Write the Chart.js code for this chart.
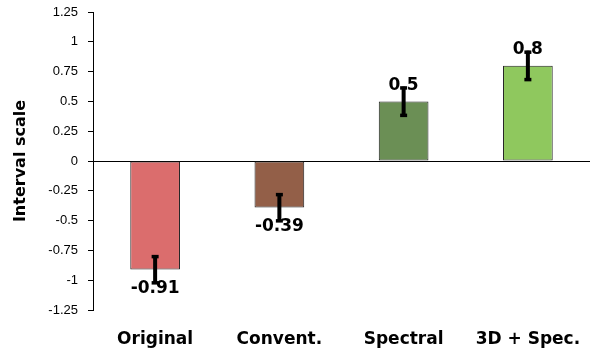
<!DOCTYPE html>
<html>
<head>
<meta charset="utf-8">
<script src="https://cdn.jsdelivr.net/npm/chart.js@4.4.1/dist/chart.umd.min.js"></script>
<style>
  html, body { margin: 0; padding: 0; background: #fff; }
  #wrap { width: 590px; height: 352px; }
</style>
</head>
<body>
<div id="wrap"><canvas id="chart"></canvas></div>
<script>
// Chart data
const categories = ['Original', 'Convent.', 'Spectral', '3D + Spec.'];
const values = [-0.91, -0.39, 0.5, 0.8];
const errors = [0.11, 0.11, 0.115, 0.115];
const valueLabels = ['-0.91', '-0.39', '0.5', '0.8'];
const barColors = ['#DB6D6D', '#935F48', '#6B8F55', '#8FC85E'];

// Draw value labels, then error bars on top of them
const errorBarPlugin = {
  id: 'errorBars',
  afterDatasetsDraw(chart) {
    const ctx = chart.ctx;
    const yScale = chart.scales.y;
    const meta = chart.getDatasetMeta(0);
    ctx.save();

    // value labels
    ctx.font = 'bold 17px "DejaVu Sans"';
    ctx.fillStyle = '#000';
    ctx.textAlign = 'center';
    ctx.textBaseline = 'middle';
    meta.data.forEach((bar, i) => {
      const yEnd = yScale.getPixelForValue(values[i]);
      const ty = values[i] < 0 ? yEnd + 19 : yEnd - 16;
      ctx.fillText(valueLabels[i], bar.x, ty);
    });

    // error bars
    ctx.strokeStyle = '#000';
    ctx.fillStyle = '#000';
    meta.data.forEach((bar, i) => {
      const yHi = yScale.getPixelForValue(values[i] + errors[i]);
      const yLo = yScale.getPixelForValue(values[i] - errors[i]);
      ctx.lineWidth = 4;
      ctx.beginPath();
      ctx.moveTo(bar.x, yHi);
      ctx.lineTo(bar.x, yLo);
      ctx.stroke();
      ctx.fillRect(bar.x - 3.5, yHi - 1.5, 7, 3.5);
      ctx.fillRect(bar.x - 3.5, yLo - 1.5, 7, 3.5);
    });
    ctx.restore();
  }
};

new Chart(document.getElementById('chart'), {
  type: 'bar',
  data: {
    labels: categories,
    datasets: [{
      data: values,
      backgroundColor: barColors,
      borderColor: '#222',
      borderWidth: 1,
      borderSkipped: false,
      barPercentage: 0.4,
      categoryPercentage: 1.0
    }]
  },
  options: {
    responsive: true,
    maintainAspectRatio: false,
    animation: false,
    layout: { padding: { top: 0, right: 0, left: 11, bottom: 0 } },
    plugins: {
      legend: { display: false },
      tooltip: { enabled: false }
    },
    scales: {
      x: {
        grid: { display: false, drawTicks: false },
        border: { display: false },
        afterFit: (s) => { s.height = 42; s.paddingLeft = 0; s.paddingRight = 0; },
        ticks: {
          color: '#000',
          padding: 19,
          font: { family: 'DejaVu Sans', size: 17, weight: 'bold' }
        }
      },
      y: {
        min: -1.25,
        max: 1.25,
        afterFit: (s) => { s.width = 82; s.paddingTop = 12; },
        ticks: {
          stepSize: 0.25,
          color: '#000',
          padding: 10,
          callback: (v) => String(Math.round(v * 100) / 100),
          font: { family: 'Liberation Sans', size: 13 }
        },
        grid: {
          color: (c) => (c.tick && c.tick.value === 0 ? '#000' : 'rgba(0,0,0,0)'),
          tickColor: '#000',
          tickLength: 5,
          lineWidth: 1
        },
        border: { color: '#000', width: 1 },
        title: {
          display: true,
          text: 'Interval scale',
          color: '#000',
          padding: { top: 0, bottom: 6 },
          font: { family: 'DejaVu Sans', size: 16, weight: 'bold' }
        }
      }
    }
  },
  plugins: [errorBarPlugin]
});
</script>
</body>
</html>
